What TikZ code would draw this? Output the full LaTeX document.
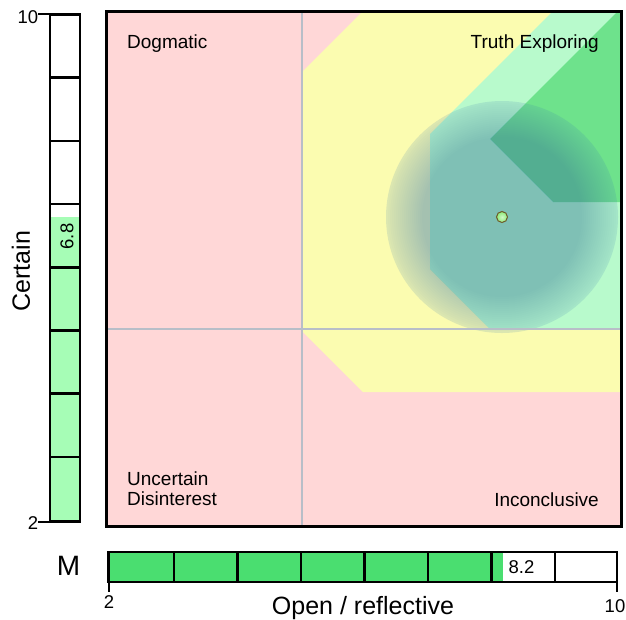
\documentclass[tikz,border=0pt]{standalone}
\usepackage{fontspec}
\setmainfont{Liberation Sans}
\usepackage{tikz}
\usetikzlibrary{positioning}
\usepackage{xcolor}
\definecolor{qpink}{RGB}{255,215,215}
\definecolor{qyellow}{RGB}{251,252,176}
\definecolor{qlightgreen}{RGB}{184,250,204}
\definecolor{qgreen}{RGB}{110,226,140}
\definecolor{qgrid}{RGB}{184,190,200}
\definecolor{barlight}{RGB}{166,253,182}
\definecolor{bargreen}{RGB}{74,222,112}
\definecolor{discblue}{RGB}{60,124,177}
\definecolor{dotgreen}{RGB}{140,235,120}
\definecolor{dotrim}{RGB}{110,90,40}
\tikzstyle{quadlabel} = [font=\fontsize{19}{20.5}\selectfont, inner sep=0pt, align=left]
\tikzstyle{axislabel} = [font=\fontsize{25}{28}\selectfont, inner sep=0pt]
\tikzstyle{ticklabel} = [font=\fontsize{18.5}{20}\selectfont, inner sep=0pt]
\tikzstyle{barcell} = [draw=black, line width=2.5pt]
\tikzstyle{tickline} = [draw=black, line width=2pt]
\tikzstyle{gridline} = [draw=qgrid, line width=2pt]
\tikzstyle{discring} = [fill=discblue, fill opacity=0.02]

\begin{document}
\begin{tikzpicture}[x=1pt, y=-1pt]
\useasboundingbox (0,0) rectangle (626,619);
\coordinate (pt) at (502,217);

% Quadrant regions
\fill[qpink] (106,11) rectangle (621,526);
\fill[qyellow] (302,72) -- (363,11) -- (621,11) -- (621,392) -- (363,392) -- (302,331) -- cycle;
\fill[qlightgreen] (430,134) -- (553,11) -- (621,11) -- (621,328) -- (489,328) -- (430,269) -- cycle;
\fill[qgreen] (490,139) -- (618,11) -- (621,11) -- (621,202) -- (553,202) -- cycle;

% Spread of the answer: a soft disc, denser towards the middle
\fill[discblue, fill opacity=0.16] (pt) circle (116pt);
\foreach \r in {114,112,...,80}
  \path[discring] (pt) circle (\r pt);

% Grid and frame
\draw[gridline] (302,11) -- (302,526);
\draw[gridline] (106,329) -- (621,329);
\draw[line width=3pt] (106,11) rectangle (621,526);
\shade[inner color=white!60!dotgreen, outer color=dotgreen, draw=dotrim, line width=1pt] (pt) circle (5.5pt);

% Quadrant labels
\node (dogmatic) [quadlabel, anchor=base west] at (127,48) {Dogmatic};
\node (truth) [quadlabel, anchor=base east] at (599,48) {Truth Exploring};
\node (uncertain) [quadlabel, anchor=south west] at (127,506) {Uncertain\\Disinterest};
\node (inconcl) [quadlabel, anchor=base east] at (599,506) {Inconclusive};

% Certain bar
\fill[barlight] (50,217) rectangle (80,521.5);
\foreach \a/\b in {14.3/77.6, 77.6/141, 141/204.2, 204.2/267.4, 267.4/330.7, 330.7/393.6, 393.6/456.8, 456.8/521.5}
  \draw[barcell] (50,\a) rectangle (80,\b);
\draw[tickline] (38,14.3) -- (50,14.3);
\draw[tickline] (38,521.5) -- (50,521.5);
\node (ytop) [ticklabel] at (28,17) {10};
\node (ybot) [ticklabel] at (33,523) {2};
\node (yval) [ticklabel, rotate=90] at (67,236.5) {6.8};
\node (certain) [axislabel, rotate=90] at (21,271) {Certain};

% Open / reflective bar
\fill[bargreen] (108.5,552) rectangle (503,582);
\foreach \a/\b in {108.5/174, 174/237.7, 237.7/301, 301/364.5, 364.5/428, 428/491.5, 491.5/555, 555/617}
  \draw[barcell] (\a,552) rectangle (\b,582);
\draw[tickline] (108.5,582) -- (108.5,592);
\draw[tickline] (617,582) -- (617,592);
\node (xleft) [ticklabel] at (109,602) {2};
\node (xright) [ticklabel] at (615,606) {10};
\node (xval) [ticklabel] at (521.5,567) {8.2};
\node (mlabel) [axislabel, font=\fontsize{28}{30}\selectfont] at (68.5,566) {M};
\node (open) [axislabel, anchor=base] at (363,614) {Open / reflective};
\end{tikzpicture}
\end{document}
